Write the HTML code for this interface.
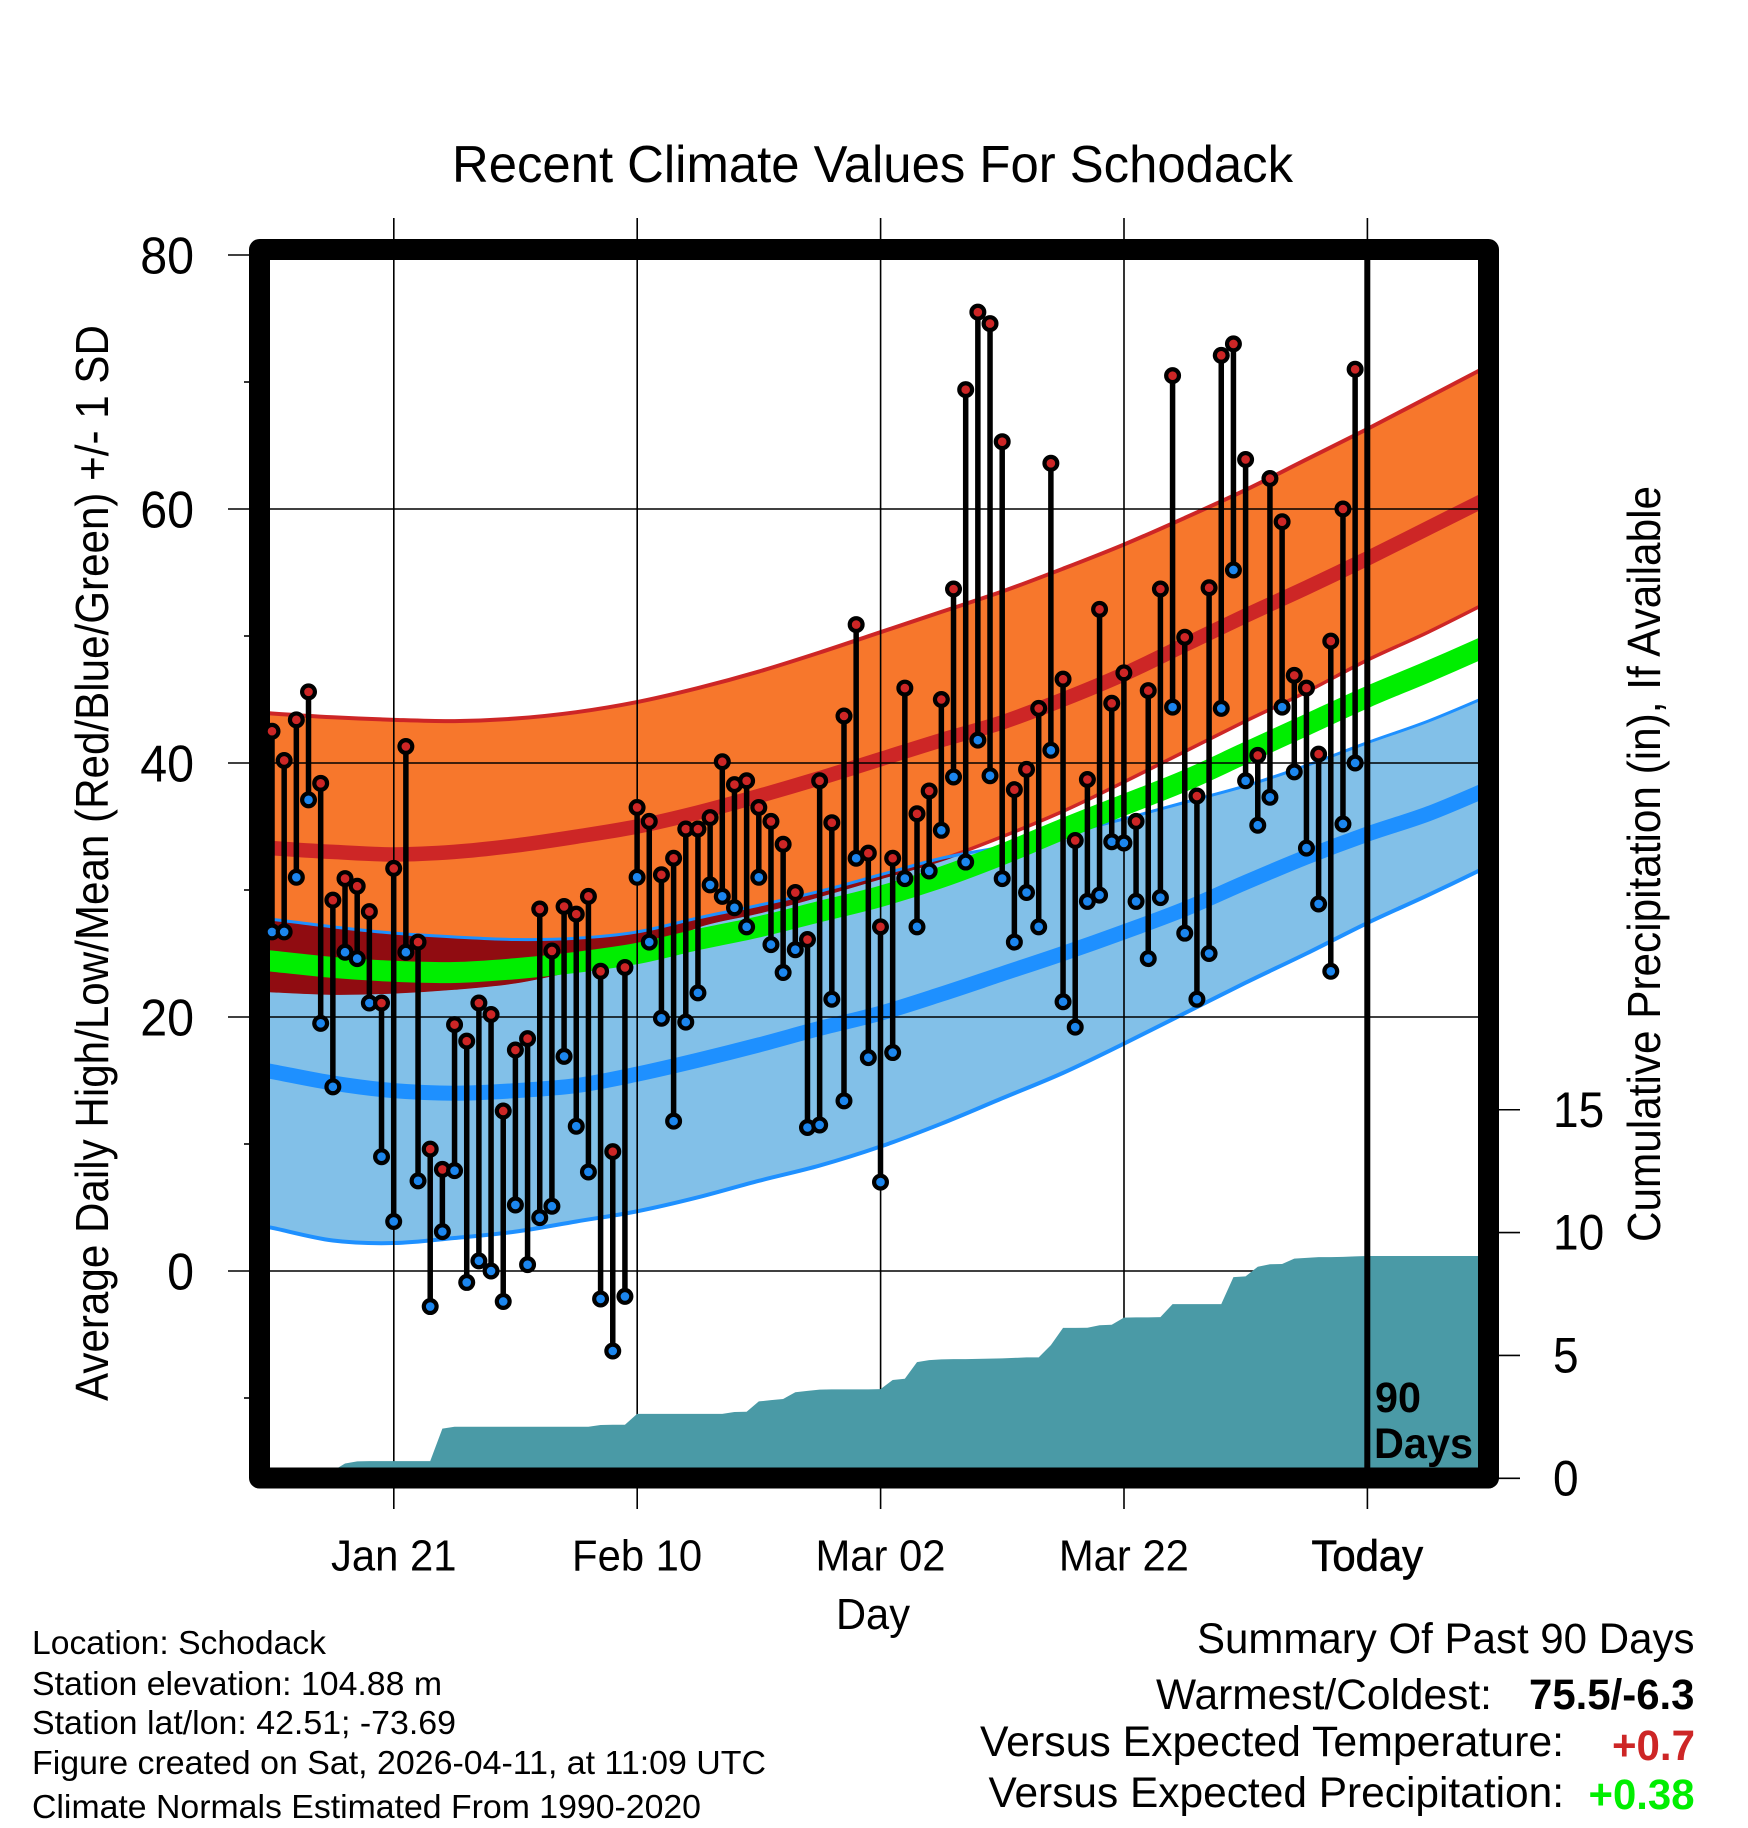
<!DOCTYPE html>
<html lang="en">
<head>
<meta charset="utf-8">
<title>Recent Climate Values For Schodack</title>
<style>
html,body{margin:0;padding:0;background:#fff;}
svg{display:block;}
text{font-family:"Liberation Sans",Arial,sans-serif;fill:#000;}
</style>
</head>
<body>
<svg id="chart" xmlns="http://www.w3.org/2000/svg" width="1748" height="1828" viewBox="0 0 1748 1828">
<rect x="0" y="0" width="1748" height="1828" fill="#ffffff"/>
<text x="452" y="182" font-size="52" textLength="841" lengthAdjust="spacingAndGlyphs">Recent Climate Values For Schodack</text>
<g id="plot"></g>
<text transform="translate(108,1401) rotate(-90)" font-size="46" textLength="1076" lengthAdjust="spacingAndGlyphs">Average Daily High/Low/Mean (Red/Blue/Green) +/- 1 SD</text>
<text transform="translate(1660,1242) rotate(-90)" font-size="46" textLength="756" lengthAdjust="spacingAndGlyphs">Cumulative Precipitation (in), If Available</text>
<text x="836" y="1629" font-size="44" textLength="74" lengthAdjust="spacingAndGlyphs">Day</text>
<text x="1375" y="1412" font-size="43" font-weight="700" textLength="46" lengthAdjust="spacingAndGlyphs">90</text>
<text x="1374" y="1458" font-size="43" font-weight="700" textLength="99" lengthAdjust="spacingAndGlyphs">Days</text>
<text x="32" y="1654" font-size="33" textLength="294" lengthAdjust="spacingAndGlyphs">Location: Schodack</text>
<text x="32" y="1695" font-size="33" textLength="410" lengthAdjust="spacingAndGlyphs">Station elevation: 104.88 m</text>
<text x="32" y="1734" font-size="33" textLength="424" lengthAdjust="spacingAndGlyphs">Station lat/lon: 42.51; -73.69</text>
<text x="32" y="1774" font-size="33" textLength="734" lengthAdjust="spacingAndGlyphs">Figure created on Sat, 2026-04-11, at 11:09 UTC</text>
<text x="32" y="1818" font-size="33" textLength="669" lengthAdjust="spacingAndGlyphs">Climate Normals Estimated From 1990-2020</text>
<text x="1197" y="1653" font-size="43" textLength="497.5" lengthAdjust="spacingAndGlyphs">Summary Of Past 90 Days</text>
<text x="1156" y="1709" font-size="43" textLength="336" lengthAdjust="spacingAndGlyphs">Warmest/Coldest:</text>
<text x="1529" y="1709" font-size="43" font-weight="700" textLength="165.5" lengthAdjust="spacingAndGlyphs">75.5/-6.3</text>
<text x="980" y="1756" font-size="43" textLength="584" lengthAdjust="spacingAndGlyphs">Versus Expected Temperature:</text>
<text x="1612" y="1760" font-size="43" font-weight="700" textLength="83" lengthAdjust="spacingAndGlyphs" style="fill:#cd2626">+0.7</text>
<text x="988.5" y="1807" font-size="43" textLength="575.5" lengthAdjust="spacingAndGlyphs">Versus Expected Precipitation:</text>
<text x="1588.5" y="1809" font-size="43" font-weight="700" textLength="106" lengthAdjust="spacingAndGlyphs" style="fill:#00ee00">+0.38</text>
</svg>
<script>
// Daily observations, one entry per day starting 90 days before today
const dailyHigh = [42.5,40.2,43.4,45.6,38.4,29.2,30.9,30.3,28.3,21.1,31.7,41.3,25.9,9.6,8.0,19.4,18.1,21.1,20.2,12.6,17.4,18.3,28.5,25.2,28.7,28.1,29.5,23.6,9.4,23.9,36.5,35.4,31.2,32.5,34.8,34.8,35.7,40.1,38.3,38.6,36.5,35.4,33.6,29.8,26.1,38.6,35.3,43.7,50.9,32.9,27.1,32.5,45.9,36.0,37.8,45.0,53.7,69.4,75.5,74.6,65.3,37.9,39.5,44.3,63.6,46.6,33.9,38.7,52.1,44.7,47.1,35.4,45.7,53.7,70.5,49.9,37.4,53.8,72.1,73.0,63.9,40.6,62.4,59.0,46.9,45.9,40.7,49.6,60.0,71.0];
const dailyLow = [26.7,26.7,31.0,37.1,19.5,14.5,25.1,24.6,21.1,9.0,3.9,25.1,7.1,-2.8,3.1,7.9,-0.9,0.8,0.0,-2.4,5.2,0.5,4.2,5.1,16.9,11.4,7.8,-2.2,-6.3,-2.0,31.0,25.9,19.9,11.8,19.6,21.9,30.4,29.5,28.6,27.1,31.0,25.7,23.5,25.3,11.3,11.5,21.4,13.4,32.5,16.8,7.0,17.2,30.9,27.1,31.5,34.7,38.9,32.2,41.8,39.0,30.9,25.9,29.8,27.1,41.0,21.2,19.2,29.1,29.6,33.8,33.7,29.1,24.6,29.4,44.4,26.6,21.4,25.0,44.3,55.2,38.6,35.1,37.3,44.4,39.3,33.3,28.9,23.6,35.2,40.0];
// Cumulative precipitation in inches, one entry per day (extends to the right edge)
const cumulativePrecip = [0,0,0,0,0,0.3,0.6,0.69,0.7,0.7,0.7,0.7,0.7,0.7,2.02,2.1,2.1,2.1,2.1,2.1,2.1,2.1,2.1,2.1,2.1,2.1,2.1,2.17,2.18,2.18,2.62,2.62,2.62,2.62,2.62,2.62,2.62,2.62,2.7,2.71,3.13,3.18,3.23,3.5,3.56,3.61,3.62,3.62,3.62,3.62,3.63,4.0,4.05,4.73,4.81,4.84,4.85,4.85,4.86,4.87,4.88,4.9,4.92,4.92,5.42,6.12,6.12,6.13,6.23,6.25,6.54,6.55,6.55,6.56,7.09,7.09,7.09,7.09,7.09,8.19,8.22,8.61,8.71,8.72,8.94,8.97,9.0,9.0,9.01,9.03,9.05,9.05,9.05,9.05,9.05,9.05,9.05,9.05,9.05,9.05,9.05];
// Climate normals at anchor days
const normalDays = [-1,0,5,10,15,20,25,30,35,40,45,50,55,60,65,70,75,80,85,90,95,100];
const normalHighPlusSd = [44.0,43.9,43.6,43.4,43.3,43.5,44.0,44.8,45.9,47.2,48.7,50.3,51.9,53.5,55.3,57.2,59.3,61.5,63.9,66.3,68.8,71.3];
const normalHighMean = [33.4,33.3,33.0,32.8,33.0,33.5,34.2,35.0,36.1,37.4,38.8,40.3,41.8,43.2,45.0,47.0,49.3,51.6,53.8,56.1,58.5,60.9];
const normalHighMinusSd = [22.2,22.1,21.9,22.0,22.3,22.8,23.8,25.0,27.2,28.3,29.6,31.0,32.4,34.2,36.2,38.5,40.9,43.3,45.6,48.1,50.3,52.7];
const normalMean = [24.5,24.4,23.9,23.6,23.5,23.8,24.3,25.0,26.1,27.1,28.3,29.5,31.0,32.8,34.8,36.7,38.6,40.8,43.0,45.2,47.2,49.3];
const normalLowPlusSd = [27.8,27.7,27.1,26.6,26.3,26.1,26.2,26.7,27.8,28.8,29.9,31.2,32.5,33.4,34.4,35.6,36.9,38.2,39.8,41.6,43.3,45.3];
const normalLowMean = [15.8,15.7,14.8,14.2,14.0,14.2,14.6,15.5,16.6,17.8,19.1,20.3,21.8,23.4,25.0,26.7,28.5,30.6,32.6,34.4,36.0,38.0];
const normalLowMinusSd = [3.5,3.4,2.4,2.2,2.6,3.1,3.9,4.7,5.8,7.1,8.3,9.8,11.6,13.6,15.6,17.9,20.3,22.7,25.0,27.4,29.6,31.9];
// Axis ticks
const dateTickDays = [10,30,50,70,90];
const dateTickLabels = ['Jan 21','Feb 10','Mar 02','Mar 22','Today'];
const tempMajorTicks = [80,60,40,20,0];
const tempMinorTicks = [70,50,30,10,-10];
const precipTicks = [0,5,10,15];

function xScale(d){ return 272 + 12.17 * d; }
function yScale(v){ return 1271 - 12.7 * v; }
function y2Scale(p){ return 1478.3 - 24.57 * p; }

const NS = 'http://www.w3.org/2000/svg';
const plot = document.getElementById('plot');
function mk(tag, attrs, parent){
  const el = document.createElementNS(NS, tag);
  for (const k in attrs) el.setAttribute(k, attrs[k]);
  (parent || plot).appendChild(el);
  return el;
}
function smoothSegs(days, vals, reverse){
  let p = days.map(function(d,i){ return [xScale(d), yScale(vals[i])]; });
  if (reverse) p = p.reverse();
  let s = '';
  for (let i = 0; i < p.length - 1; i++){
    const p0 = p[Math.max(i-1,0)], p1 = p[i], p2 = p[i+1], p3 = p[Math.min(i+2,p.length-1)];
    const c1x = p1[0] + (p2[0]-p0[0])/6, c1y = p1[1] + (p2[1]-p0[1])/6;
    const c2x = p2[0] - (p3[0]-p1[0])/6, c2y = p2[1] - (p3[1]-p1[1])/6;
    s += 'C' + c1x.toFixed(2) + ' ' + c1y.toFixed(2) + ' ' + c2x.toFixed(2) + ' ' + c2y.toFixed(2) + ' ' + p2[0].toFixed(2) + ' ' + p2[1].toFixed(2);
  }
  return {start: p[0], segs: s};
}
function linePath(vals){
  const a = smoothSegs(normalDays, vals, false);
  return 'M' + a.start[0].toFixed(2) + ' ' + a.start[1].toFixed(2) + a.segs;
}
function bandPath(upper, lower){
  const a = smoothSegs(normalDays, upper, false);
  const b = smoothSegs(normalDays, lower, true);
  return 'M' + a.start[0].toFixed(2) + ' ' + a.start[1].toFixed(2) + a.segs + 'L' + b.start[0].toFixed(2) + ' ' + b.start[1].toFixed(2) + b.segs + 'Z';
}

// Clip for overlap of the two bands
const defs = mk('defs', {});
const clip = mk('clipPath', {id:'low-band-clip'}, defs);
mk('path', {d: bandPath(normalLowPlusSd, normalLowMinusSd)}, clip);

const highBand = mk('path', {d: bandPath(normalHighPlusSd, normalHighMinusSd), fill:'#f7772c'});



const lowBand = mk('path', {d: bandPath(normalLowPlusSd, normalLowMinusSd), fill:'#82c0e8'});



const highUpperLine = mk('path', {d: linePath(normalHighPlusSd), fill:'none', stroke:'#cd2626', 'stroke-width':4});



const highLowerLine = mk('path', {d: linePath(normalHighMinusSd), fill:'none', stroke:'#cd2626', 'stroke-width':3.5});



const overlap = mk('path', {d: bandPath(normalHighPlusSd, normalHighMinusSd), fill:'#900c11', stroke:'#900c11', 'stroke-width':4, 'clip-path':'url(#low-band-clip)'});



const lowUpperLine = mk('path', {d: linePath(normalLowPlusSd), fill:'none', stroke:'#1e90ff', 'stroke-width':3});



const lowLowerLine = mk('path', {d: linePath(normalLowMinusSd), fill:'none', stroke:'#1e90ff', 'stroke-width':4});



const highMeanLine = mk('path', {d: linePath(normalHighMean), fill:'none', stroke:'#cd2626', 'stroke-width':14.5});



const lowMeanLine = mk('path', {d: linePath(normalLowMean), fill:'none', stroke:'#1e90ff', 'stroke-width':15});



const meanLine = mk('path', {d: linePath(normalMean), fill:'none', stroke:'#00ee00', 'stroke-width':21});



// Grid and date ticks
tempMajorTicks.forEach(function(v){
  const g = mk('line', {x1:228, x2:1478, y1:yScale(v), y2:yScale(v), stroke:'#000', 'stroke-width':1.6});
  
  
});
dateTickDays.forEach(function(d){
  const g = mk('line', {x1:xScale(d)+0.1, x2:xScale(d)+0.1, y1:218, y2:1509, stroke:'#000', 'stroke-width':1.6});
  
  
});
tempMinorTicks.forEach(function(v){
  const t = mk('line', {x1:244, x2:250, y1:yScale(v), y2:yScale(v), stroke:'#000', 'stroke-width':1.6});
  
  
});

// Cumulative precipitation area
(function(){
  let d = 'M' + xScale(0) + ' ' + y2Scale(0);
  cumulativePrecip.forEach(function(p,i){
    d += 'L' + xScale(i).toFixed(2) + ' ' + y2Scale(p).toFixed(2);
  });
  d += 'L' + xScale(cumulativePrecip.length-1).toFixed(2) + ' ' + y2Scale(0) + 'Z';
  const area = mk('path', {d: d, fill:'#4a9aa6'});
  
  
})();

// Frame
const frame = mk('rect', {x:259.5, y:249.5, width:1229, height:1228.5, fill:'none', stroke:'#000', 'stroke-width':21, 'stroke-linejoin':'round'});



// Today marker
const todayLine = mk('line', {x1:xScale(dateTickDays[4]), x2:xScale(dateTickDays[4]), y1:250, y2:1478, stroke:'#000', 'stroke-width':6});



// Right axis ticks
precipTicks.forEach(function(p){
  const t = mk('line', {x1:1498, x2:1520, y1:y2Scale(p), y2:y2Scale(p), stroke:'#000', 'stroke-width':1.6});
  
  
  const lab = mk('text', {x:1553, y:y2Scale(p)+17, 'font-size':50, 'lengthAdjust':'spacingAndGlyphs'});
  
  
  lab.textContent = String(p);
  lab.setAttribute('textLength', (lab.getComputedTextLength()*0.92).toFixed(1));
});

// Left axis labels
tempMajorTicks.forEach(function(v){
  const lab = mk('text', {x:194, y:yScale(v)+18.5, 'font-size':52, 'text-anchor':'end', 'lengthAdjust':'spacingAndGlyphs'});
  
  
  lab.textContent = String(v);
  lab.setAttribute('textLength', (lab.getComputedTextLength()*0.93).toFixed(1));
});

// Date labels
dateTickDays.forEach(function(d,i){
  const lab = mk('text', {x:xScale(d), y:1570.5, 'font-size':44, 'text-anchor':'middle', 'lengthAdjust':'spacingAndGlyphs'});
  
  
  lab.textContent = dateTickLabels[i];
  lab.setAttribute('textLength', (lab.getComputedTextLength()*0.95).toFixed(1));
  if (dateTickLabels[i] === 'Today') { lab.setAttribute('style', 'stroke:#000;stroke-width:0.7px'); }
});

// Daily stems and points
dailyHigh.forEach(function(h,i){
  const x = xScale(i);
  const stem = mk('line', {x1:x, x2:x, y1:yScale(h), y2:yScale(dailyLow[i]), stroke:'#000', 'stroke-width':5.5});
  
  
  const lo = mk('circle', {cx:x, cy:yScale(dailyLow[i]), r:6.4, fill:'#1c86ee', stroke:'#000', 'stroke-width':4.2});
  
  
  const hi = mk('circle', {cx:x, cy:yScale(h), r:6.4, fill:'#cd2626', stroke:'#000', 'stroke-width':4.2});
  
  
});
</script>
</body>
</html>
